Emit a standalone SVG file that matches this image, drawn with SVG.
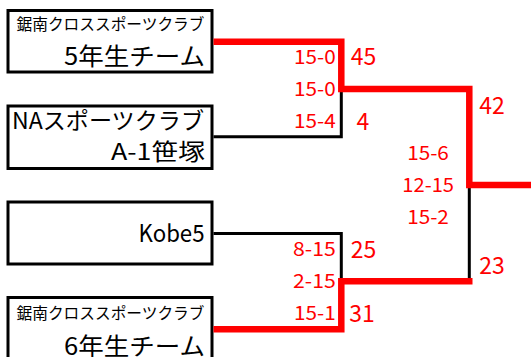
<svg xmlns="http://www.w3.org/2000/svg" width="531" height="357" viewBox="0 0 531 357">
<style>
.box{fill:#fff;stroke:#000;stroke-width:3}
.t{font-family:"Noto Sans CJK JP","Noto Sans",sans-serif;fill:#000}
.s{font-family:"Noto Sans CJK JP","Noto Sans",sans-serif;fill:#f00;font-size:19.5px}
.b{font-family:"Noto Sans CJK JP","Noto Sans",sans-serif;fill:#f00;font-size:23px;text-anchor:middle}
.red{fill:none;stroke:#f00;stroke-width:6.5;stroke-linejoin:miter}
.blk{fill:none;stroke:#000;stroke-width:3;stroke-linejoin:miter}
</style>
<rect width="531" height="357" fill="#fff"/>
<g id="node-kyonan5">
<rect class="box" x="8" y="10.5" width="204" height="61.5"/>
<text class="t" x="16.5" y="29.5" font-size="15.5" textLength="188" lengthAdjust="spacingAndGlyphs">鋸南クロススポーツクラブ</text>
<text class="t" x="64" y="65" font-size="24" textLength="141" lengthAdjust="spacingAndGlyphs">5年生チーム</text>
</g>
<g id="node-na">
<rect class="box" x="8" y="106" width="204" height="62.5"/>
<text class="t" x="12" y="129" font-size="23" textLength="192" lengthAdjust="spacingAndGlyphs">NAスポーツクラブ</text>
<text class="t" x="111" y="160" font-size="23" textLength="94" lengthAdjust="spacingAndGlyphs">A-1笹塚</text>
</g>
<g id="node-kobe5">
<rect class="box" x="8" y="202" width="204" height="62"/>
<text class="t" x="138.5" y="241.5" font-size="24" textLength="66" lengthAdjust="spacingAndGlyphs">Kobe5</text>
</g>
<g id="node-kyonan6">
<rect class="box" x="8" y="297.5" width="204" height="62"/>
<text class="t" x="16.5" y="318.5" font-size="15.5" textLength="188" lengthAdjust="spacingAndGlyphs">鋸南クロススポーツクラブ</text>
<text class="t" x="64" y="355" font-size="24" textLength="141" lengthAdjust="spacingAndGlyphs">6年生チーム</text>
</g>
<g id="connectors">
<path class="blk" d="M213.5,136.7 H341.3 V92"/>
<path class="blk" d="M213.5,233.5 H341.3 V279"/>
<path class="blk" d="M469.3,279 V188"/>
<path class="red" d="M213.5,41.7 H341.3 V89 H469.3 V185 H531"/>
<path class="red" d="M213.5,329.2 H341.3 V281.3 H472.5"/>
</g>
<g id="scores">
<text class="s" x="335.7" y="63.5" text-anchor="end" textLength="41.7" lengthAdjust="spacingAndGlyphs">15-0</text>
<text class="s" x="335.7" y="95.8" text-anchor="end" textLength="41.7" lengthAdjust="spacingAndGlyphs">15-0</text>
<text class="s" x="335.7" y="128" text-anchor="end" textLength="41.7" lengthAdjust="spacingAndGlyphs">15-4</text>
<text class="s" x="428" y="160" text-anchor="middle" textLength="41.7" lengthAdjust="spacingAndGlyphs">15-6</text>
<text class="s" x="428.2" y="191.7" text-anchor="middle" textLength="51.7" lengthAdjust="spacingAndGlyphs">12-15</text>
<text class="s" x="428" y="224" text-anchor="middle" textLength="41.7" lengthAdjust="spacingAndGlyphs">15-2</text>
<text class="s" x="335.7" y="256" text-anchor="end" textLength="42.7" lengthAdjust="spacingAndGlyphs">8-15</text>
<text class="s" x="335.7" y="288" text-anchor="end" textLength="42.7" lengthAdjust="spacingAndGlyphs">2-15</text>
<text class="s" x="335.7" y="320" text-anchor="end" textLength="41.7" lengthAdjust="spacingAndGlyphs">15-1</text>
<text class="b" x="363.5" y="65">45</text>
<text class="b" x="363" y="130">4</text>
<text class="b" x="492" y="114">42</text>
<text class="b" x="363.5" y="258">25</text>
<text class="b" x="492" y="274">23</text>
<text class="b" x="362" y="322">31</text>
</g>
</svg>
